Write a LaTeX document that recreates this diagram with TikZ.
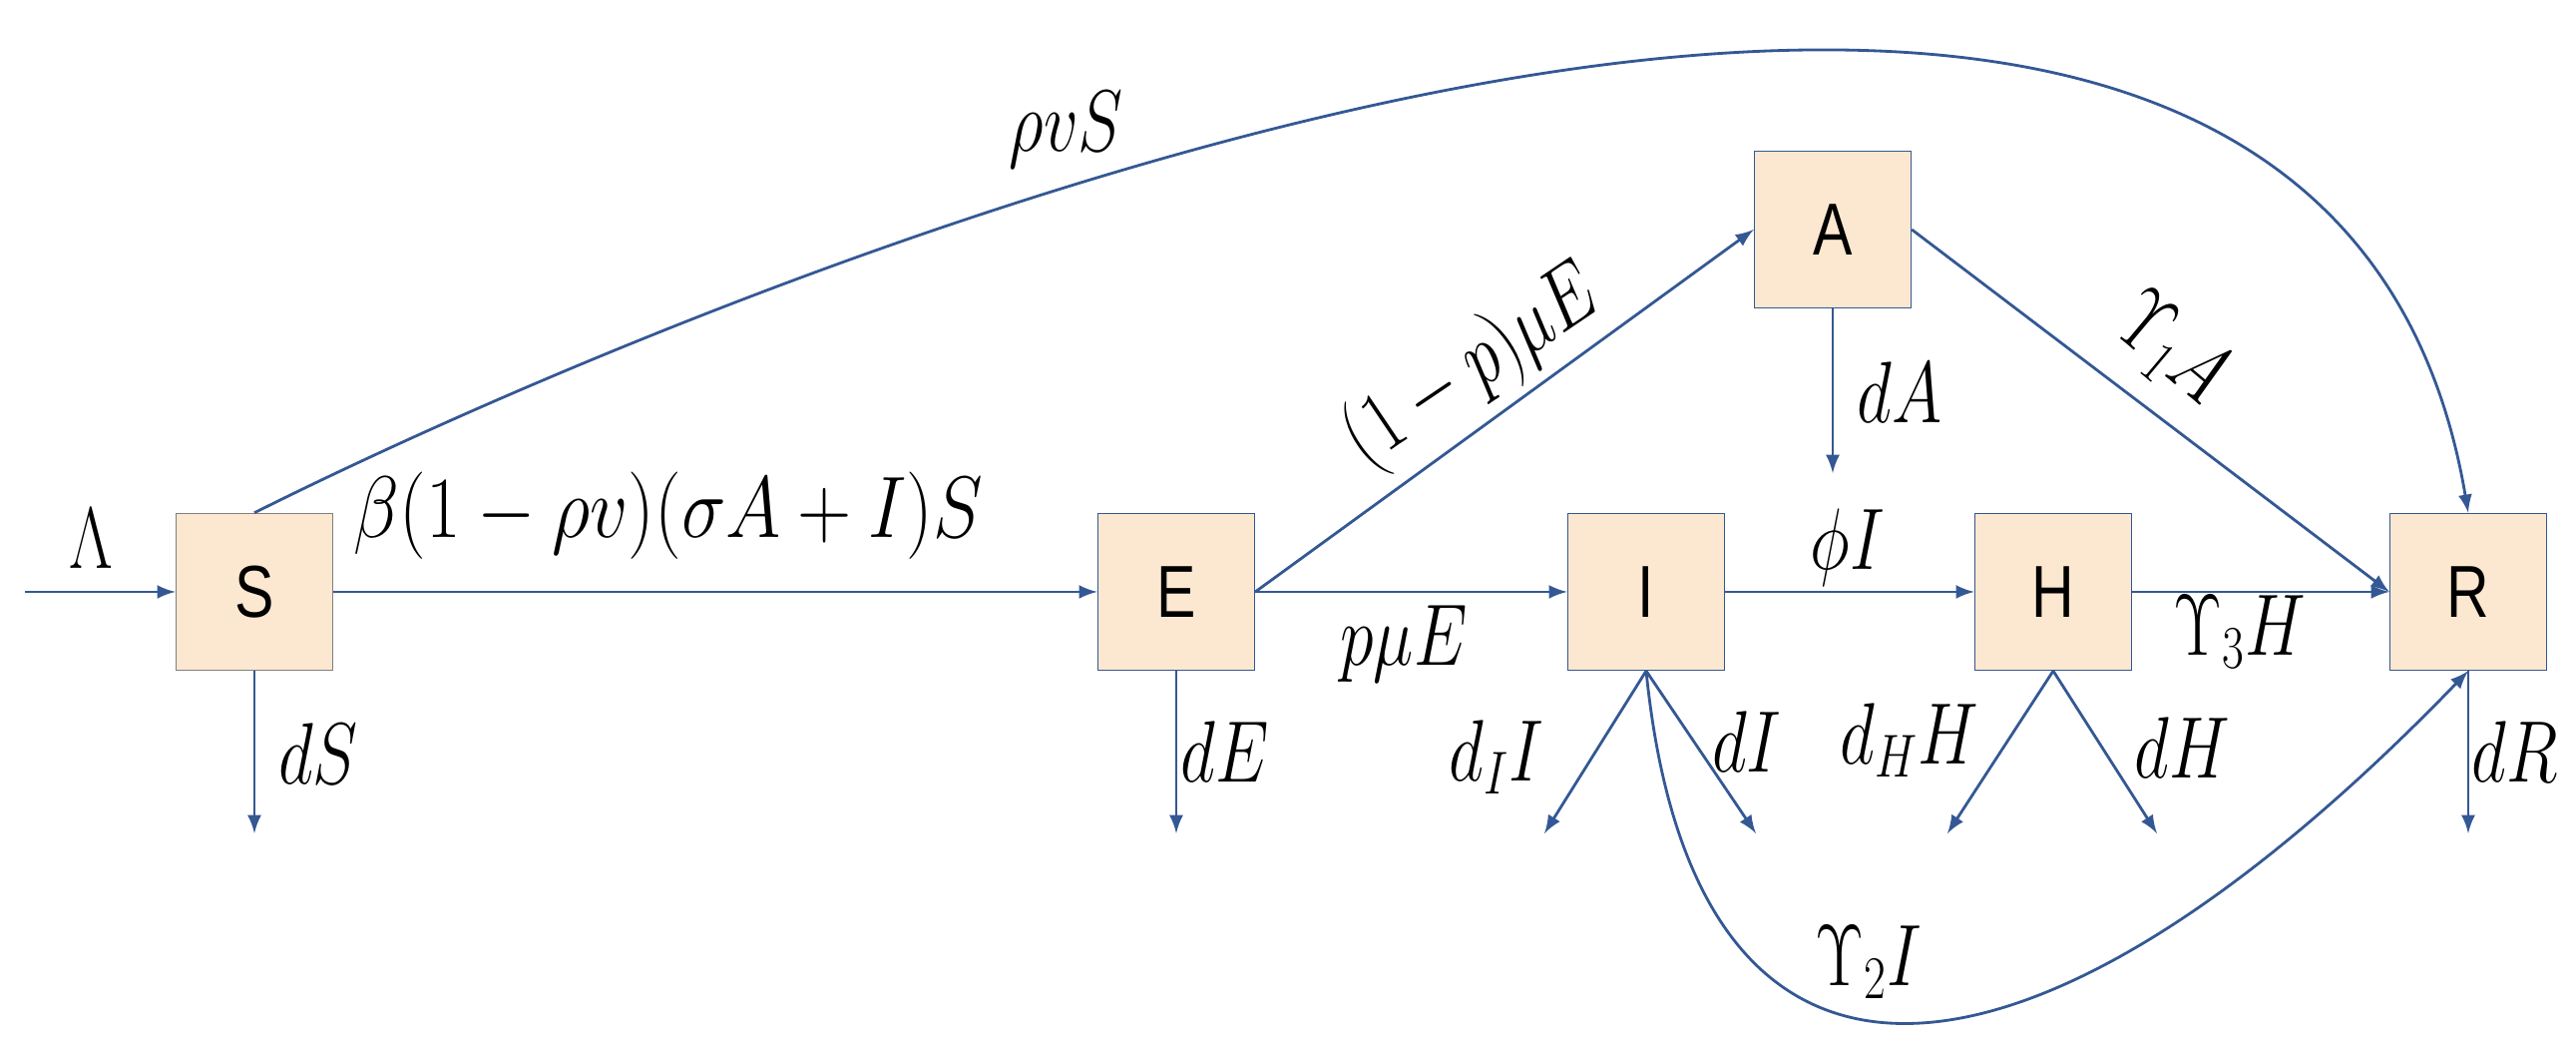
\documentclass[tikz,border=0pt]{standalone}
\usepackage{amsmath}
\usepackage{fontspec}
\newfontfamily\boxfont{Liberation Sans}
\usetikzlibrary{calc}
\definecolor{flowblue}{RGB}{52,88,148}
\definecolor{boxfill}{RGB}{252,232,208}
\newcommand{\narrow}[1]{\scalebox{0.8}[1]{#1}}
\begin{document}
\begin{tikzpicture}[
    comp/.style={draw=flowblue, fill=boxfill, minimum size=1.57cm, inner sep=0pt, font=\boxfont\fontsize{21}{21}\selectfont},
    flow/.style={flowblue, thick, -latex},
    rate/.style={font=\fontsize{27}{27}\selectfont, xscale=0.78, transform shape},
    smallrate/.style={font=\fontsize{24}{24}\selectfont, xscale=0.78, transform shape}]
    \useasboundingbox (0,0) rectangle (25.82,10.51);

    % compartments
    \node [comp, draw=gray] (S) at (2.55,4.58) {\narrow{S}};
    \node [comp] (E) at (11.79,4.58) {\narrow{E}};
    \node [comp] (A) at (18.37,8.21) {\narrow{A}};
    \node [comp] (I) at (16.50,4.58) {\narrow{I}};
    \node [comp] (H) at (20.58,4.58) {\narrow{H}};
    \node [comp] (R) at (24.74,4.58) {\narrow{R}};

    % free ends
    \coordinate (in) at (0.25,4.58);
    \coordinate (outS) at (2.55,2.16);
    \coordinate (outE) at (11.79,2.16);
    \coordinate (outA) at (18.37,5.77);
    \coordinate (outIl) at (15.48,2.16);
    \coordinate (outIr) at (17.60,2.16);
    \coordinate (outHl) at (19.52,2.16);
    \coordinate (outHr) at (21.62,2.16);
    \coordinate (outR) at (24.74,2.16);

    \draw [flow] (in)--(S);
    \draw [flow] (S)--(E);
    \draw [flow] (E.east)--(A.west);
    \draw [flow] (E)--(I);
    \draw [flow] (I)--(H);
    \draw [flow] (H)--(R);
    \draw [flow] (A.east)--(R.west);
    \draw [flow] (S.north) .. controls (7.0,7.6) and (23.2,14.5) .. (R.north); % vaccination
    \draw [flow] (I.south) .. controls (17.0,-1.2) and (20.5,-0.6) .. (R.south); % recovery of I
    \draw [flow] (S.south)--(outS);
    \draw [flow] (E.south)--(outE);
    \draw [flow] (A.south)--(outA);
    \draw [flow] (I.south)--(outIl);
    \draw [flow] (I.south)--(outIr);
    \draw [flow] (H.south)--(outHl);
    \draw [flow] (H.south)--(outHr);
    \draw [flow] (R.south)--(outR);

    % rates
    \node [rate] (lab in) at (0.91,5.11) {$\Lambda$};
    \node [font=\fontsize{25}{25}\selectfont, xscale=0.86, transform shape] (lab SE) at (6.70,5.34) {$\beta(1-\rho v)(\sigma A+I)S$};
    \node [rate] (lab SR) at (10.69,9.21) {$\rho v S$};
    \node [rotate=34, smallrate, font=\fontsize{26}{26}\selectfont] (lab EA) at (14.77,6.82) {$(1-p)\mu E$};
    \node [smallrate] (lab EI) at (14.07,4.06) {$p\mu E$};
    \node [rate] (lab dS) at (3.19,2.96) {$dS$};
    \node [rate] (lab dE) at (12.28,2.98) {$dE$};
    \node [rate] (lab dA) at (19.04,6.58) {$dA$};
    \node [rate] (lab IH) at (18.52,5.02) {$\phi I$};
    \node [rotate=-40, rate] (lab AR) at (21.75,7.00) {$\Upsilon_1 A$};
    \node [smallrate] (lab HR) at (22.45,4.18) {$\Upsilon_3 H$};
    \node [rate] (lab dII) at (15.00,2.92) {$d_I I$};
    \node [rate] (lab dI) at (17.51,3.08) {$dI$};
    \node [rate] (lab dHH) at (19.14,3.09) {$d_H H$};
    \node [rate] (lab dH) at (21.87,3.02) {$dH$};
    \node [rate] (lab dR) at (25.21,2.98) {$dR$};
    \node [rate] (lab IR) at (18.73,0.87) {$\Upsilon_2 I$};
\end{tikzpicture}
\end{document}
